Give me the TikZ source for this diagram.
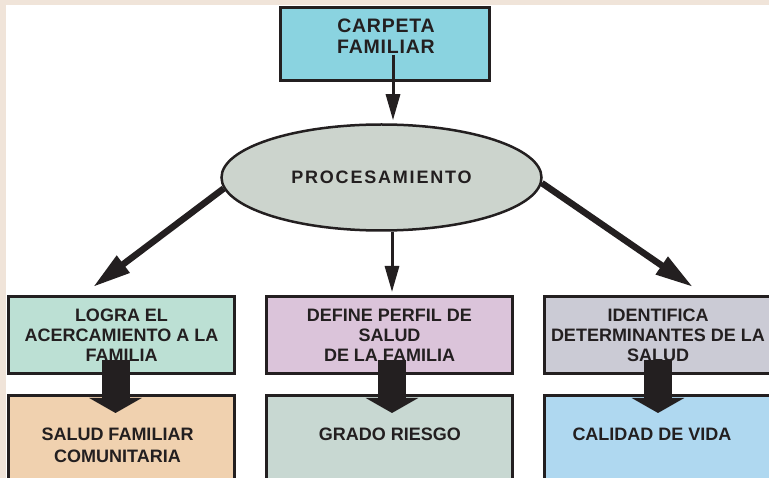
\documentclass[tikz,border=0pt]{standalone}
\usepackage{fontspec}
\setmainfont{Liberation Sans}
\usetikzlibrary{arrows.meta}
\usetikzlibrary{shapes.geometric}

\definecolor{bgbeige}{HTML}{F0E4D9}
\definecolor{ink}{HTML}{231F20}
\definecolor{carpetablue}{HTML}{8AD3E0}
\definecolor{procgrey}{HTML}{CCD4CD}
\definecolor{mint}{HTML}{BCE0D4}
\definecolor{lilac}{HTML}{DBC4DA}
\definecolor{lavgrey}{HTML}{CBCBD5}
\definecolor{peach}{HTML}{F0D1AF}
\definecolor{sage}{HTML}{C8D8D2}
\definecolor{skyblue}{HTML}{AFD8F0}

\tikzset{
	box/.style={draw=ink, line width=3pt, rectangle, inner sep=0pt},
	boxtext/.style={align=center, text=ink, inner sep=0pt, font=\bfseries\fontsize{18}{20}\selectfont},
	thinarrow/.style={draw=ink, line width=3pt, -{Triangle[length=26pt,width=14pt]}},
	diagarrow/.style={draw=ink, line width=6.5pt, -{Triangle[length=38pt,width=20pt]}},
	blockarrow/.style={draw=ink, line width=28pt, -{Triangle[length=15pt,width=52pt]}}
}

\begin{document}
\begin{tikzpicture}[x=1pt, y=-1pt]

	%frame
	\useasboundingbox (0,0) rectangle (769,478);
	\clip (0,0) rectangle (769,478);
	\fill[bgbeige] (0,0) rectangle (769,478);
	\fill[white] (5.5,5.5) rectangle (769,478);

	%top box and ellipse
	\node[box, fill=carpetablue, minimum width=209pt, minimum height=73pt] (carpeta) at (385,44) {};
	\node[boxtext, font=\bfseries\fontsize{19.5}{21}\selectfont\addfontfeature{LetterSpace=4}] (carpetatxt) at (386,36) {CARPETA\\FAMILIAR};
	\node[ellipse, draw=ink, line width=2.5pt, fill=procgrey, inner sep=0pt,
		minimum width=320pt, minimum height=106pt, text=ink,
		font=\bfseries\fontsize{18}{20}\selectfont\addfontfeature{LetterSpace=10}] (proc) at (381.5,177.5) {PROCESAMIENTO};

	%first row
	\node[box, boxtext, fill=mint, minimum width=226pt, minimum height=77pt] (b11) at (121.5,335) {LOGRA EL\\ACERCAMIENTO A LA\\FAMILIA};
	\node[box, boxtext, fill=lilac, minimum width=246pt, minimum height=77pt] (b12) at (389.5,335) {DEFINE PERFIL DE\\SALUD\\DE LA FAMILIA};
	\node[box, boxtext, fill=lavgrey, minimum width=227pt, minimum height=77pt] (b13) at (658,335) {IDENTIFICA\\DETERMINANTES DE LA\\SALUD};

	%second row
	\node[box, fill=peach, minimum width=226pt, minimum height=103pt] (b21) at (121.5,447) {};
	\node[box, fill=sage, minimum width=246pt, minimum height=103pt] (b22) at (389.5,447) {};
	\node[box, fill=skyblue, minimum width=227pt, minimum height=103pt] (b23) at (658,447) {};
	\node[boxtext, font=\bfseries\fontsize{18}{22}\selectfont] (t21) at (117.5,445) {SALUD FAMILIAR\\COMUNITARIA};
	\node[boxtext] (t22) at (390,434) {GRADO RIESGO};
	\node[boxtext] (t23) at (652,434) {CALIDAD DE VIDA};

	%arrows
	\coordinate (c0) at (393,55);
	\coordinate (c2) at (392,232);
	\coordinate (t1) at (93,287);
	\coordinate (t3) at (693,287);
	\draw[thinarrow, shorten >=3pt] (c0) -- (c0 |- proc.north);
	\draw[thinarrow, shorten >=3pt] (c2) -- (c2 |- b12.north);
	\draw[diagarrow] (proc.184) -- (t1);
	\draw[diagarrow] (proc.-2) -- (t3);

	\draw[blockarrow] ([xshift=-6pt, yshift=-25pt]b11.center) -- ([xshift=-6pt, yshift=-19pt]b21.north);
	\draw[blockarrow] ([xshift=2.5pt, yshift=-25pt]b12.center) -- ([xshift=2.5pt, yshift=-19pt]b22.north);
	\draw[blockarrow] ([yshift=-25pt]b13.center) -- ([yshift=-19pt]b23.north);

\end{tikzpicture}
\end{document}
